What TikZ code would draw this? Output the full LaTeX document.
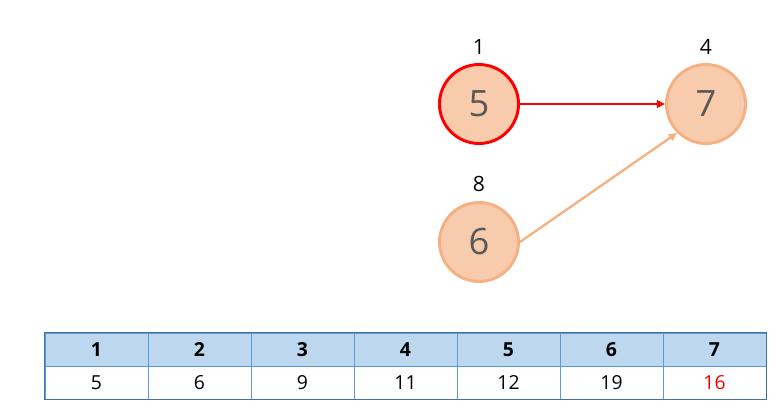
\documentclass[tikz,border=0pt]{standalone}
\usepackage{fontspec}
\setmainfont{Open Sans}
\usetikzlibrary{arrows.meta,positioning}
\definecolor{peachfill}{HTML}{F8CBAD}
\definecolor{peachline}{HTML}{F4B183}
\definecolor{cellblue}{HTML}{BDD7EE}
\definecolor{gridblue}{HTML}{5B9BD5}
\definecolor{frameblue}{HTML}{41719C}
\definecolor{digitgray}{HTML}{595959}

\begin{document}
\begin{tikzpicture}[x=0.03cm, y=-0.03cm,
  vertex/.style={circle,draw=peachline,fill=peachfill,line width=2.5pt,minimum size=2.37cm,inner sep=0pt,text=digitgray,font=\fontsize{31}{31}\selectfont},
  tag/.style={font=\fontsize{18}{18}\selectfont},
  headcell/.style={rectangle,draw=gridblue,fill=cellblue,line width=0.8pt,minimum width=3.09cm,minimum height=0.99cm,inner sep=0pt,font=\fontsize{16.5}{16.5}\selectfont\bfseries},
  valcell/.style={rectangle,draw=gridblue,fill=white,line width=0.8pt,minimum width=3.09cm,minimum height=0.99cm,inner sep=0pt,font=\fontsize{16.5}{16.5}\selectfont},
  link/.style={-{Triangle[length=7pt,width=6.5pt]},line width=2pt}]
   \useasboundingbox (0,0) rectangle (780,413);

   % graph
   \node[vertex,draw=red] (n5) at (479,104) {5};
   \node[vertex] (n7) at (706,104) {7};
   \node[vertex] (n6) at (479,242) {6};

   \node[tag] (t1) at (479,47) {1};
   \node[tag] (t4) at (706,47) {4};
   \node[tag] (t8) at (479,184) {8};

   \path[link]
     (n5) edge [red] node {} (n7)
     (n6.east) edge [peachline] node {} (n7.south west);

   % table
   \foreach \i/\v/\c in {1/5/black,2/6/black,3/9/black,4/11/black,5/12/black,6/19/black,7/16/red} {
     \node[headcell] (head\i) at (96.5+103*\i-103,349.5) {\i};
     \node[valcell,text=\c] (val\i) at (96.5+103*\i-103,382.5) {\v};
   }
   \draw[frameblue,line width=1.4pt] (head1.north west) rectangle (val7.south east);
\end{tikzpicture}
\end{document}
